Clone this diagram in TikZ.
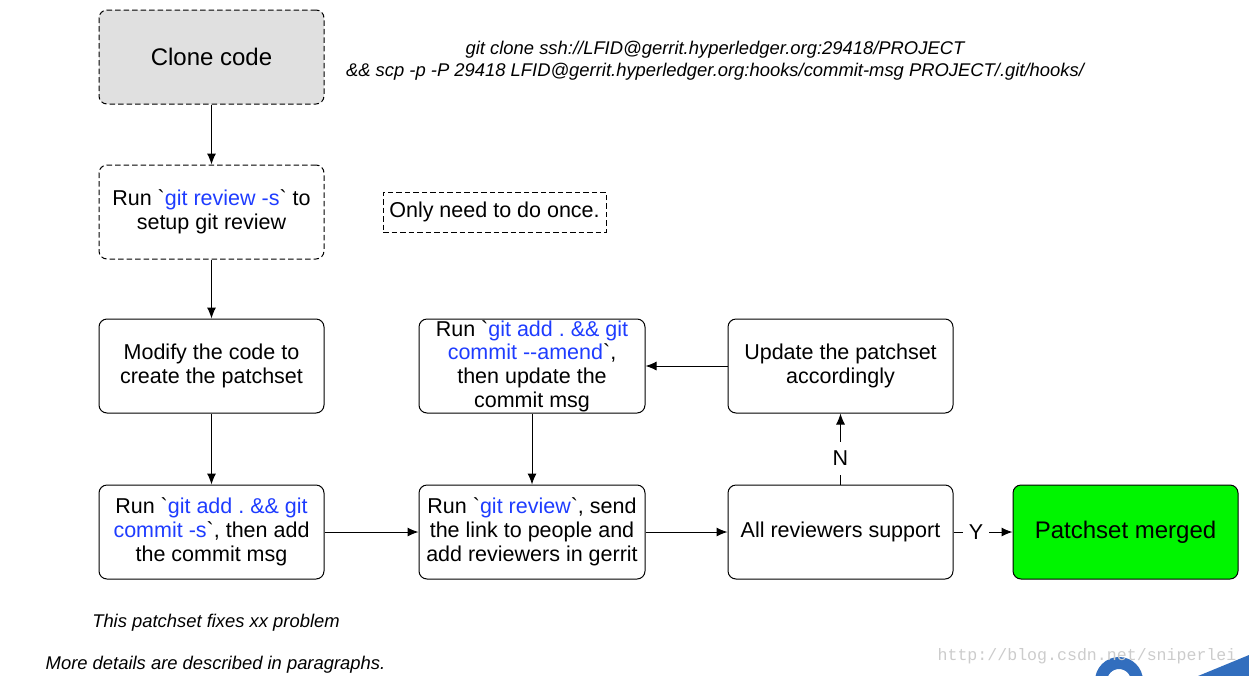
\documentclass[tikz,border=0pt]{standalone}
\usepackage{fontspec}
\setmainfont{Liberation Sans}[Ligatures=TeXOff]
\newfontfamily\wmfont{Liberation Mono}
\usetikzlibrary{arrows.meta}
\definecolor{gitblue}{RGB}{30,60,255}
\definecolor{clonegray}{RGB}{224,224,224}
\definecolor{mergegreen}{RGB}{0,245,0}
\definecolor{logoblue}{RGB}{50,110,190}
\newcommand{\gb}[1]{\textcolor{gitblue}{#1}}
\frenchspacing
\tikzset{
  box/.style={draw, rounded corners=8pt, line width=1pt, minimum width=225pt, minimum height=94pt, inner sep=0pt, align=center, font=\fontsize{21.5}{23.7}\selectfont},
  dbox/.style={box, dash pattern=on 5.5pt off 3pt},
  conn/.style={line width=1pt, -{Latex[length=11pt,width=9pt]}},
  lbl/.style={fill=white, inner xsep=6pt, inner ysep=9pt, font=\fontsize{21.5}{24}\selectfont},
  note/.style={font=\fontsize{18.4}{22}\selectfont\itshape, align=center},
}
\begin{document}
\begin{tikzpicture}[x=1pt, y=-1pt]
\useasboundingbox (0,0) rectangle (1249,675);
\begin{scope}
\clip (0,0) rectangle (1249,675);
% watermark logo
\draw[logoblue, line width=12pt] (1119,681) circle (18);
\fill[logoblue] (1198,676) -- (1249,655) -- (1249,676) -- cycle;
\end{scope}
\node[dbox, fill=clonegray, font=\fontsize{24}{28}\selectfont] (clone) at (211.5,57) {Clone code};
\node[dbox] (rs) at (211.5,212) {Run `\gb{git review -s}` to\\setup git review};
\node[draw, dash pattern=on 5.5pt off 3pt, line width=1pt, minimum width=223pt, minimum height=40pt, inner sep=0pt, font=\fontsize{21.5}{24}\selectfont] (once) at (494.5,212) {Only need to do once.};
\node[box] (mod) at (211.5,366) {Modify the code to\\create the patchset};
\node[box, minimum width=226pt] (amend) at (532,366) {Run `\gb{git add . \&\& git}\\\gb{commit --amend}`,\\then update the\\commit msg};
\node[box] (upd) at (840.5,366) {Update the patchset\\accordingly};
\node[box] (cs) at (211.5,532) {Run `\gb{git add . \&\& git}\\\gb{commit -s}`, then add\\the commit msg};
\node[box, minimum width=226pt] (gr) at (532,532) {Run `\gb{git review}`, send\\the link to people and\\add reviewers in gerrit};
\node[box] (all) at (840.5,532) {All reviewers support};
\node[box, fill=mergegreen, font=\fontsize{24}{28}\selectfont] (merged) at (1125.5,532) {Patchset merged};
\node[note] (cmd) at (715,61) {git clone ssh://LFID@gerrit.hyperledger.org:29418/PROJECT\\\&\& scp -p -P 29418 LFID@gerrit.hyperledger.org:hooks/commit-msg PROJECT/.git/hooks/};
\node[note] (msg1) at (216,623) {This patchset fixes xx problem};
\node[note] (msg2) at (215.5,665) {More details are described in paragraphs.};
\node[font=\wmfont\fontsize{16.6}{20}\selectfont, text=gray!40] (wm) at (1087,656) {http://blog.csdn.net/sniperlei};
\draw[conn] (clone) -- (rs);
\draw[conn] (rs) -- (mod);
\draw[conn] (mod) -- (cs);
\draw[conn] (cs) -- (gr);
\draw[conn] (amend) -- (gr);
\draw[conn] (gr) -- (all);
\draw[conn] (all) -- node[lbl, pos=0.38] {Y} (merged);
\draw[conn] (all) -- node[lbl, pos=0.37] {N} (upd);
\draw[conn] (upd) -- (amend);
\end{tikzpicture}
\end{document}
